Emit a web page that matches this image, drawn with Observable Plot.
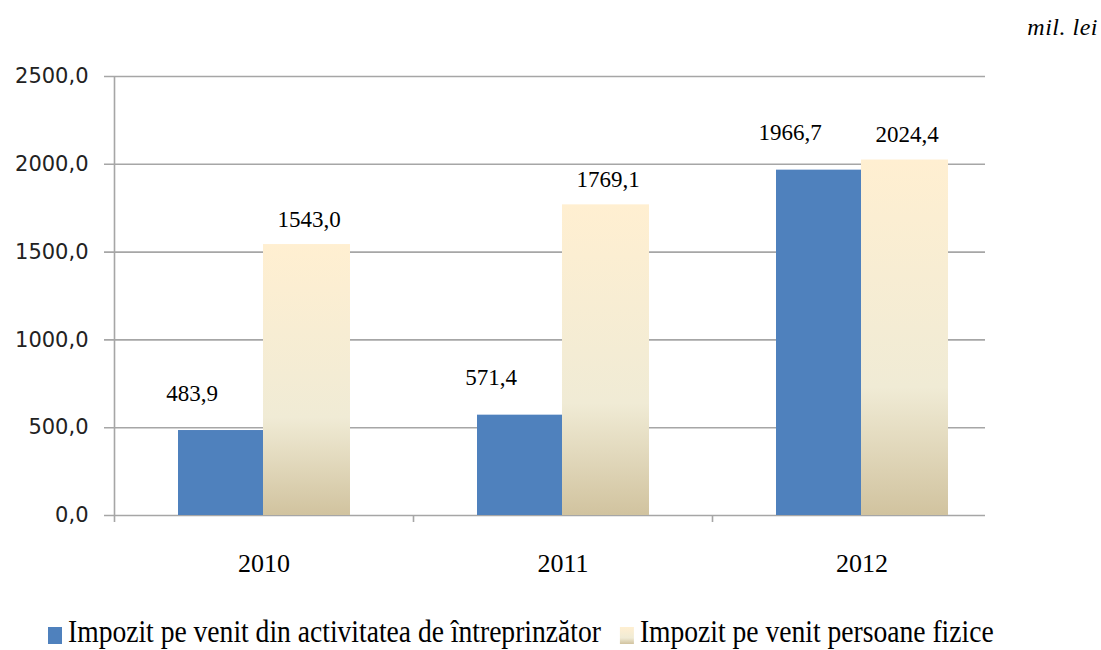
<!DOCTYPE html>
<html><head><meta charset="utf-8">
<script src="https://cdn.jsdelivr.net/npm/d3@7"></script>
<script src="https://cdn.jsdelivr.net/npm/@observablehq/plot@0.6"></script>
<style>
body{margin:0;background:#fff;}
#wrap{position:relative;width:1101px;height:650px;overflow:hidden;}
#unit{position:absolute;right:3px;top:14px;font:italic 24px "Liberation Serif",serif;color:#000;letter-spacing:0.5px;}
#legend{position:absolute;left:0;top:600px;}
</style></head><body>
<div id="wrap"><div id="chart"></div><div id="unit">mil. lei</div><svg id="legend" width="1101" height="50"></svg></div>
<script>
const years = ["2010", "2011", "2012"];
const seriesNames = ["Impozit pe venit din activitatea de întreprinzător", "Impozit pe venit persoane fizice"];
const entrepreneurTax = [483.9, 571.4, 1966.7];
const personalTax = [1543.0, 1769.1, 2024.4];
const yTicks = [0, 500, 1000, 1500, 2000, 2500];
const seriesColors = ["#4F81BD", "url(#parchment)"];

const rows = years.flatMap((yr, i) => [
  {year: yr, series: seriesNames[0], value: entrepreneurTax[i]},
  {year: yr, series: seriesNames[1], value: personalTax[i]}
]);
const s0 = rows.filter(d => d.series === seriesNames[0]);
const s1 = rows.filter(d => d.series === seriesNames[1]);
const fmt = v => v.toFixed(1).replace(".", ",");
const serif = "'Liberation Serif', 'Times New Roman', serif";
const sans = "'DejaVu Sans', Verdana, sans-serif";
const bw = 299;

const chart = Plot.plot({
  width: 1101, height: 600,
  marginTop: 76, marginBottom: 85, marginLeft: 114, marginRight: 116,
  x: {domain: years, range: [114, 1011], padding: 0, label: null},
  y: {domain: [0, 2500], label: null},
  color: {domain: seriesNames, range: seriesColors},
  style: {background: "#fff", overflow: "visible"},
  marks: [
    Plot.ruleY(yTicks, {stroke: "#a6a6a6", strokeWidth: 1.6, insetLeft: -10}),
    Plot.ruleX([years[0]], {x: d => d, dx: -bw / 2, y1: 2500, y2: 0, stroke: "#a6a6a6", strokeWidth: 1.6, insetBottom: -7}),
    Plot.ruleX(years.slice(1), {x: d => d, dx: -bw / 2, y1: 0, y2: 0, stroke: "#a6a6a6", strokeWidth: 1.6, insetBottom: -7}),
    Plot.barY(s0, {x: "year", y: "value", fill: "series", insetLeft: 64, insetRight: 150}),
    Plot.barY(s1, {x: "year", y: "value", fill: "series", insetLeft: 149, insetRight: 63}),
    Plot.text(s0, {x: "year", y: "value", text: d => fmt(d.value), dx: -72, dy: -30, lineAnchor: "bottom", fontFamily: serif, fontSize: 23, fill: "#000"}),
    Plot.text(s1, {x: "year", y: "value", text: d => fmt(d.value), dx: 45, dy: -18, lineAnchor: "bottom", fontFamily: serif, fontSize: 23, fill: "#000"}),
    Plot.axisY(yTicks, {tickSize: 0, tickPadding: 26, tickFormat: fmt, fontFamily: sans, fontSize: 21, fill: "#222", label: null}),
    Plot.axisX({tickSize: 0, tickPadding: 38, fontFamily: serif, fontSize: 26, fill: "#000", label: null})
  ]
});

const defs = d3.select(chart).insert("defs", ":first-child");
const grad = defs.append("linearGradient").attr("id", "parchment").attr("x1", 0).attr("y1", 0).attr("x2", 0).attr("y2", 1);
grad.append("stop").attr("offset", "0%").attr("stop-color", "#FFEFD1");
grad.append("stop").attr("offset", "64%").attr("stop-color", "#F0EBD5");
grad.append("stop").attr("offset", "100%").attr("stop-color", "#D1C39F");
document.getElementById("chart").appendChild(chart);

const legend = d3.select("#legend");
let lx = 48;
const sx = 0.89;
seriesNames.forEach((name, i) => {
  legend.append("rect").attr("x", lx).attr("y", 27).attr("width", 14).attr("height", 17).attr("fill", seriesColors[i]);
  const t = legend.append("text")
    .attr("transform", `translate(${lx + 20},42) scale(${sx},1)`)
    .attr("font-family", serif).attr("font-size", 31).attr("fill", "#000")
    .text(name);
  const w = t.node().getComputedTextLength() * sx;
  lx += 20 + w + 19;
});
</script>
</body></html>
